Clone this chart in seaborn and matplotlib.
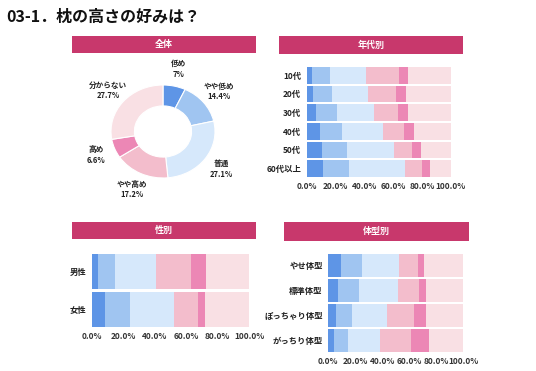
import pandas as pd
import seaborn as sns
import matplotlib.pyplot as plt
from matplotlib.patches import Rectangle

# Answer categories and colours (low -> high, then "don't know")
answers = ['低め', 'やや低め', '普通', 'やや高め', '高め', '分からない']
colors = ['#5e95e6', '#a0c5f1', '#d6e8fb', '#f3bdcc', '#ec87b5', '#f9e0e4']

# Overall share (%)
total = [7, 14.4, 27.1, 17.2, 6.6, 27.7]

# By age
ages = ['10代', '20代', '30代', '40代', '50代', '60代以上']
age_vals = [
    [3.9, 12.3, 25.2, 22.5, 6.7, 29.4],
    [4.6, 13.2, 24.8, 19.7, 6.5, 31.2],
    [6.7, 14.4, 25.9, 16.4, 7.0, 29.6],
    [9.0, 15.3, 28.5, 14.8, 6.7, 25.7],
    [10.6, 17.6, 32.7, 12.5, 5.8, 20.8],
    [11.3, 18.3, 38.5, 12.2, 5.6, 14.1],
]

# By gender
genders = ['男性', '女性']
gender_vals = [
    [4.2, 10.4, 26.4, 22.0, 9.5, 27.5],
    [8.2, 16.3, 27.7, 15.0, 4.9, 27.9],
]

# By body type
bodies = ['やせ体型', '標準体型', 'ぽっちゃり体型', 'がっちり体型']
body_vals = [
    [9.1, 16.1, 27.1, 14.1, 4.5, 29.1],
    [7.4, 15.3, 28.9, 15.8, 4.7, 27.9],
    [5.4, 12.1, 26.0, 20.0, 8.6, 27.9],
    [4.2, 10.1, 23.7, 23.2, 13.4, 25.4],
]

xticks = [0, 20, 40, 60, 80, 100]

sns.set_theme(style='white')
plt.rcParams['font.family'] = ['Noto Sans CJK JP', 'DejaVu Sans']

W, H = 536, 371
fig = plt.figure(figsize=(W / 100, H / 100), dpi=100)


def box(x0, y0, x1, y1):
    # pixel box (top-left origin) -> figure fraction
    return [x0 / W, 1 - y1 / H, (x1 - x0) / W, (y1 - y0) / H]


def header(x0, y0, x1, y1, text):
    b = box(x0, y0, x1, y1)
    fig.add_artist(Rectangle((b[0], b[1]), b[2], b[3], transform=fig.transFigure,
                             color='#c8386c', lw=0))
    fig.text(b[0] + b[2] / 2, b[1] + b[3] / 2, text, color='white', fontsize=6.5,
             fontweight='bold', ha='center', va='center')


def stacked(ax, cats, vals, width):
    df = pd.DataFrame(vals, columns=answers)
    df['cat'] = cats
    cum = df[answers].cumsum(axis=1)
    # draw longest first, shorter cumulative bars on top
    for a, c in reversed(list(zip(answers, colors))):
        sns.barplot(x=cum[a], y=df['cat'], orient='h', color=c, width=width,
                    saturation=1, linewidth=0, ax=ax)
    ax.set_xlim(0, 100)
    ax.set_xticks(xticks)
    ax.set_xticklabels([f'{t:.1f}%' for t in xticks], fontsize=6, fontweight='bold',
                       color='#333333')
    ax.tick_params(axis='y', labelsize=6, colors='#222222', pad=4, length=0)
    ax.tick_params(axis='x', pad=3, length=0)
    for lab in ax.get_yticklabels():
        lab.set_fontweight('bold')
    ax.set_xlabel('')
    ax.set_ylabel('')
    sns.despine(ax=ax, left=True, bottom=True)


fig.text(6 / W, 1 - 17 / H, '03-1．枕の高さの好みは？', fontsize=11.5, fontweight='bold',
         color='#111111', va='center', ha='left')

header(72, 36, 256, 53, '全体')
header(279, 36, 463, 54, '年代別')
header(72, 222, 256, 239, '性別')
header(284, 222, 469, 241, '体型別')

# donut
ax0 = fig.add_axes(box(111, 85, 215, 178))
labels = [f'{a}\n{v:g}%' for a, v in zip(answers, total)]
wedges, texts = ax0.pie(total, colors=colors, startangle=90, counterclock=False,
                        labels=labels, labeldistance=1.38,
                        wedgeprops=dict(width=0.45, linewidth=0.8, edgecolor='white'))
for t in texts:
    t.set_ha('center')
    t.set_va('center')
    t.set_fontsize(5.5)
    t.set_fontweight('bold')
    t.set_color('#222222')
    t.set_linespacing(1.2)
ax0.set_aspect('auto')
ax0.set_xlim(-1, 1)
ax0.set_ylim(-1, 1)

ax1 = fig.add_axes(box(306.7, 66, 450.7, 178))
stacked(ax1, ages, age_vals, 0.9)

ax2 = fig.add_axes(box(91.7, 252.7, 249.3, 328))
stacked(ax2, genders, gender_vals, 0.93)

ax3 = fig.add_axes(box(328.3, 252.7, 463.3, 353))
stacked(ax3, bodies, body_vals, 0.9)

fig.savefig('out.png', dpi=100)
